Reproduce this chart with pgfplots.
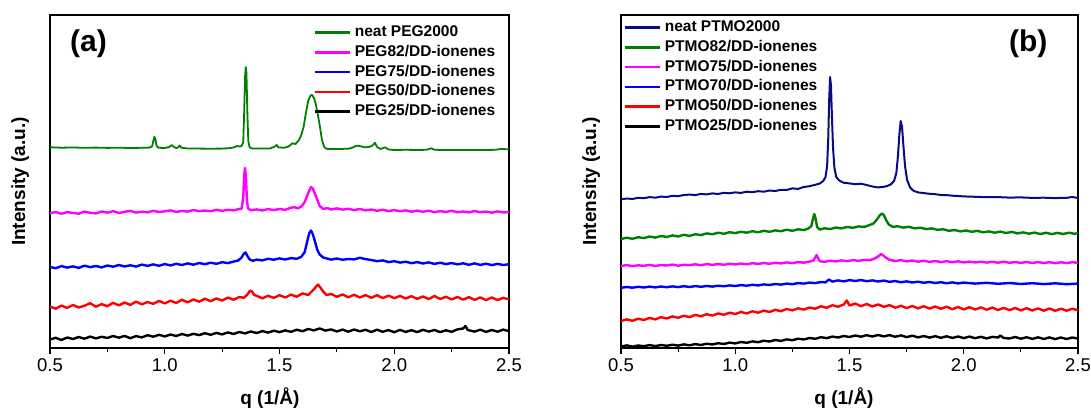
\documentclass[border=0pt]{standalone}
\usepackage{fontspec}
\setmainfont{Liberation Sans}
\usepackage{pgfplots}
\pgfplotsset{compat=1.18}
\definecolor{cgreen}{RGB}{0,128,0}
\definecolor{cmag}{RGB}{255,0,255}
\definecolor{cblue}{RGB}{0,0,255}
\definecolor{cred}{RGB}{255,0,0}
\definecolor{cnavy}{RGB}{10,10,130}
\pgfplotsset{
 xrd/.style={
  scale only axis, height=333pt,
  xmin=0.5, xmax=2.5, ymin=0, ymax=333,
  xtick={0.5,1,1.5,2,2.5}, xticklabels={0.5,1.0,1.5,2.0,2.5},
  minor x tick num=1,
  ytick=\empty,
  xtick pos=left,
  tick align=outside,
  major tick length=6pt, minor tick length=4pt,
  axis line style={line width=1.2pt},
  every tick/.style={line width=1.2pt, black},
  ticklabel style={font=\fontsize{18.5}{22}\selectfont, yshift=-1.5pt},
  /pgf/number format/assume math mode=true,
  label style={font=\bfseries\fontsize{19}{22}\selectfont},
  xlabel={q (1/Å)},
  ylabel={Intensity (a.u.)},
  ylabel style={at={(axis description cs:-0.065,0.5)}, anchor=center},
  legend cell align=left,
  legend image code/.code={\draw[#1,line width=2.6pt] (0pt,0pt) -- (35pt,0pt);},
  legend style={draw=none, fill=none, inner sep=0pt, anchor=north west,
    font=\bfseries\fontsize{15.5}{18}\selectfont,
    nodes={inner sep=0pt, text height=11pt, text depth=3pt},
    row sep=5.8pt, column sep=4pt},
  every axis plot/.append style={line width=2.4pt, line join=round},
 }
}
\begin{document}
\begin{tikzpicture}
\path[use as bounding box] (0,0) rectangle (1091pt,412pt);
% ---------------- panel (a)
\begin{axis}[xrd, width=459pt, at={(50pt,64pt)}, anchor=south west,
  xlabel style={at={(axis description cs:0.479,-0.15)}, anchor=center},
  legend style={at={(axis description cs:0.573,0.969)}}]
\addplot[cgreen, line width=1.8pt] coordinates {(0.5,200.7)(0.55,200.3)(0.6,200.5)(0.65,200.2)(0.7,200.4)(0.75,200.1)(0.8,200.3)(0.85,200)(0.9,200.2)(0.93,200.3)(0.945,201.5)(0.95,207)(0.955,211.3)(0.96,208)(0.965,201.5)(0.975,200.2)(1.0,200)(1.02,201)(1.03,203)(1.04,201)(1.05,200)(1.058,200.6)(1.065,202.5)(1.072,200.3)(1.1,199.5)(1.15,199.4)(1.2,199.3)(1.25,199.4)(1.28,199.8)(1.3,200.5)(1.315,202)(1.325,201.5)(1.335,202)(1.342,206)(1.346,235)(1.35,272)(1.353,281)(1.356,275)(1.36,235)(1.364,207)(1.37,200.5)(1.38,199.6)(1.42,199.5)(1.46,199.6)(1.48,201.5)(1.488,203)(1.496,200.5)(1.52,200.3)(1.54,201.5)(1.556,204.7)(1.57,204)(1.585,208)(1.595,213)(1.605,221)(1.615,235)(1.625,247)(1.635,252.5)(1.642,253)(1.65,250)(1.658,244)(1.665,236)(1.675,223)(1.685,208)(1.695,201)(1.705,199.2)(1.72,199)(1.76,199)(1.8,199.3)(1.82,200.5)(1.836,202.3)(1.85,202)(1.87,200.7)(1.89,201)(1.905,202.5)(1.916,205.3)(1.925,201)(1.94,199)(1.96,200.7)(1.975,198.5)(2.0,198)(2.05,198.2)(2.1,198)(2.14,198.2)(2.16,199.7)(2.175,198.3)(2.2,198)(2.3,198)(2.4,198)(2.44,198.2)(2.465,199)(2.5,198.7)};
\addlegendentry{neat PEG2000}
\addplot[cmag] coordinates {(0.5,134.8)(0.525,136.0)(0.55,134.2)(0.575,135.9)(0.6,135.0)(0.625,134.3)(0.65,136.4)(0.675,135.2)(0.7,134.6)(0.725,136.5)(0.75,135.3)(0.775,136.8)(0.8,135.0)(0.825,136.2)(0.85,137.1)(0.875,135.4)(0.9,136.3)(0.925,135.6)(0.95,137.2)(0.975,136.0)(1.0,136.7)(1.025,137.6)(1.05,136.1)(1.075,137.0)(1.1,136.4)(1.125,138.0)(1.15,136.8)(1.175,137.5)(1.2,136.7)(1.225,138.3)(1.25,137.2)(1.275,138.1)(1.3,137.6)(1.32,138.8)(1.335,139.5)(1.342,150)(1.346,172)(1.35,180)(1.354,170)(1.358,148)(1.363,139.5)(1.375,137.8)(1.4,138.6)(1.425,137.5)(1.45,138.9)(1.475,137.9)(1.5,139.0)(1.525,138.2)(1.55,140.3)(1.565,140.8)(1.58,139.6)(1.595,141.5)(1.61,146)(1.625,155)(1.637,161)(1.645,159.5)(1.655,154)(1.665,148)(1.675,142)(1.69,139.2)(1.71,139.8)(1.725,138.5)(1.75,139.6)(1.775,138.4)(1.8,139.2)(1.825,137.9)(1.85,139.0)(1.875,137.6)(1.9,138.5)(1.925,137.2)(1.95,138.3)(1.975,136.9)(2.0,137.9)(2.025,136.8)(2.05,137.6)(2.075,136.3)(2.1,137.4)(2.125,136.2)(2.15,137.3)(2.175,135.9)(2.2,136.8)(2.225,136.1)(2.25,137.2)(2.275,135.7)(2.3,136.5)(2.325,135.6)(2.35,136.9)(2.375,135.8)(2.4,136.4)(2.425,135.3)(2.45,136.6)(2.475,135.5)(2.5,136.0)};
\addlegendentry{PEG82/DD-ionenes}
\addplot[cblue] coordinates {(0.5,81.0)(0.525,79.8)(0.55,81.9)(0.575,80.4)(0.6,81.6)(0.625,80.1)(0.65,82.3)(0.675,80.9)(0.7,82.0)(0.725,80.6)(0.75,82.5)(0.775,81.3)(0.8,83.0)(0.825,81.5)(0.85,82.7)(0.875,81.4)(0.9,83.4)(0.925,82.1)(0.95,83.6)(0.975,82.2)(1.0,83.9)(1.025,82.6)(1.05,84.2)(1.075,83.0)(1.1,84.6)(1.125,83.3)(1.15,85.0)(1.175,83.8)(1.2,85.3)(1.225,84.2)(1.25,85.8)(1.275,84.9)(1.3,86.4)(1.32,87.5)(1.335,90.5)(1.345,94.5)(1.352,95.5)(1.36,92)(1.37,88.5)(1.385,87.2)(1.4,88.4)(1.425,87.6)(1.45,89.2)(1.475,88.3)(1.5,89.6)(1.525,88.5)(1.55,89.9)(1.575,89.2)(1.595,91.2)(1.61,96)(1.62,106)(1.63,115)(1.637,117.5)(1.645,114)(1.655,106)(1.665,98)(1.675,93.5)(1.69,90.5)(1.71,89.3)(1.725,88.4)(1.75,89.5)(1.775,88.2)(1.8,89.0)(1.825,88.6)(1.85,90.2)(1.875,88.9)(1.9,88.0)(1.925,86.8)(1.95,87.6)(1.975,85.9)(2.0,86.8)(2.025,85.4)(2.05,86.3)(2.075,84.8)(2.1,85.9)(2.125,84.5)(2.15,85.6)(2.175,84.1)(2.2,85.3)(2.225,83.9)(2.25,85.0)(2.275,83.6)(2.3,84.7)(2.325,83.2)(2.35,84.6)(2.375,83.1)(2.4,84.3)(2.425,82.9)(2.45,84.1)(2.475,83.0)(2.5,83.8)};
\addlegendentry{PEG75/DD-ionenes}
\addplot[cred] coordinates {(0.5,41.5)(0.525,39.3)(0.55,42.4)(0.575,40.1)(0.6,43.0)(0.625,40.6)(0.65,42.2)(0.675,44.8)(0.7,41.3)(0.725,43.9)(0.75,41.8)(0.775,45.2)(0.8,42.6)(0.825,45.5)(0.85,43.1)(0.875,46.4)(0.9,43.7)(0.925,45.9)(0.95,44.2)(0.975,47.1)(1.0,44.6)(1.025,47.3)(1.05,45.0)(1.075,48.2)(1.1,45.7)(1.125,48.5)(1.15,46.3)(1.175,49.3)(1.2,46.8)(1.225,49.6)(1.25,47.5)(1.275,50.4)(1.3,48.3)(1.325,51.0)(1.345,50.2)(1.36,53.5)(1.372,57.5)(1.38,56.5)(1.39,53.0)(1.405,51.8)(1.425,49.6)(1.45,52.3)(1.475,50.1)(1.5,52.8)(1.525,50.5)(1.55,53.4)(1.575,51.2)(1.6,54.6)(1.625,53.0)(1.645,57.5)(1.66,61.5)(1.668,63.5)(1.678,60.5)(1.69,56.5)(1.705,53.0)(1.725,54.0)(1.75,51.2)(1.775,53.6)(1.8,50.7)(1.825,53.2)(1.85,50.5)(1.875,52.9)(1.9,50.2)(1.925,52.8)(1.95,49.9)(1.975,52.4)(2.0,49.8)(2.025,52.1)(2.05,49.5)(2.075,51.8)(2.1,49.1)(2.125,51.6)(2.15,48.9)(2.175,52.0)(2.2,49.0)(2.225,51.2)(2.25,48.6)(2.275,51.0)(2.3,48.4)(2.325,50.9)(2.35,48.1)(2.375,50.6)(2.4,47.9)(2.425,50.5)(2.45,48.0)(2.475,50.2)(2.5,48.5)};
\addlegendentry{PEG50/DD-ionenes}
\addplot[black] coordinates {(0.5,8.5)(0.525,10.2)(0.55,8.0)(0.575,10.5)(0.6,9.0)(0.625,11.0)(0.65,9.3)(0.675,11.4)(0.7,9.6)(0.725,11.2)(0.75,10.0)(0.775,12.0)(0.8,10.3)(0.825,12.1)(0.85,9.8)(0.875,11.9)(0.9,10.6)(0.925,12.8)(0.95,11.3)(0.975,13.2)(1.0,11.6)(1.025,13.5)(1.05,12.0)(1.075,14.0)(1.1,12.4)(1.125,14.2)(1.15,12.9)(1.175,14.8)(1.2,13.2)(1.225,15.1)(1.25,13.6)(1.275,15.6)(1.3,14.0)(1.325,16.0)(1.35,14.6)(1.375,16.5)(1.4,15.0)(1.425,16.9)(1.45,15.4)(1.475,17.3)(1.5,15.9)(1.525,17.6)(1.55,16.2)(1.575,18.3)(1.6,16.8)(1.625,19.0)(1.65,17.6)(1.675,19.6)(1.7,17.4)(1.725,18.6)(1.75,16.5)(1.775,18.4)(1.8,16.3)(1.825,18.5)(1.85,16.7)(1.875,18.2)(1.9,16.0)(1.925,18.3)(1.95,16.2)(1.975,17.9)(2.0,15.8)(2.025,18.1)(2.05,16.1)(2.075,17.8)(2.1,15.9)(2.125,18.2)(2.15,16.4)(2.175,18.0)(2.2,15.9)(2.225,17.7)(2.25,16.2)(2.275,18.6)(2.3,19.5)(2.31,22.0)(2.32,18.0)(2.35,16.4)(2.375,18.3)(2.4,16.1)(2.425,18.0)(2.45,16.3)(2.475,18.4)(2.5,16.8)};
\addlegendentry{PEG25/DD-ionenes}
\node[font=\bfseries\fontsize{30}{34}\selectfont] at (rel axis cs:0.084,0.914) {(a)};
\end{axis}
% ---------------- panel (b)
\begin{axis}[xrd, width=457pt, at={(621pt,64pt)}, anchor=south west,
  xlabel style={at={(axis description cs:0.488,-0.15)}, anchor=center},
  legend style={at={(axis description cs:0.0044,0.984)}}]
\addplot[cnavy, line width=2pt] coordinates {(0.5,148.7)(0.525,149.5)(0.55,149.0)(0.575,150.2)(0.6,149.8)(0.625,150.9)(0.65,150.3)(0.675,151.4)(0.7,151.0)(0.725,152.2)(0.75,151.8)(0.775,153.0)(0.8,153.4)(0.825,152.9)(0.85,154.1)(0.875,153.6)(0.9,154.6)(0.925,154.0)(0.95,155.2)(0.975,154.7)(1.0,155.6)(1.025,155.1)(1.05,156.3)(1.075,155.8)(1.1,156.8)(1.125,156.3)(1.15,157.5)(1.175,157.0)(1.2,158.2)(1.225,158.0)(1.25,159.6)(1.275,159.1)(1.3,161.0)(1.325,161.8)(1.35,163.2)(1.37,164.5)(1.385,167.0)(1.395,171.0)(1.402,182)(1.407,210)(1.411,248)(1.415,271)(1.419,262)(1.423,232)(1.428,200)(1.434,180)(1.442,171)(1.455,167.5)(1.475,165.2)(1.5,164.6)(1.525,163.8)(1.55,164.3)(1.575,163.0)(1.6,161.5)(1.625,160.6)(1.65,161.2)(1.665,162.0)(1.68,163.5)(1.695,167)(1.705,175)(1.712,192)(1.718,213)(1.724,227)(1.73,221)(1.736,202)(1.743,182)(1.752,168)(1.765,160.5)(1.78,157.2)(1.8,155.6)(1.825,154.9)(1.85,154.2)(1.875,153.8)(1.9,153.0)(1.925,152.9)(1.95,152.3)(1.975,152.0)(2.0,151.6)(2.05,151.2)(2.1,150.8)(2.15,150.9)(2.2,150.4)(2.25,150.6)(2.3,150.1)(2.35,150.3)(2.4,149.9)(2.45,150.2)(2.475,151.0)(2.5,150.0)};
\addlegendentry{neat PTMO2000}
\addplot[cgreen] coordinates {(0.5,109.0)(0.525,110.3)(0.55,109.2)(0.575,110.8)(0.6,109.9)(0.625,111.5)(0.65,110.4)(0.675,112.0)(0.7,111.0)(0.725,112.6)(0.75,111.5)(0.775,113.2)(0.8,112.1)(0.825,113.8)(0.85,112.9)(0.875,114.6)(0.9,113.7)(0.925,115.3)(0.95,114.2)(0.975,115.8)(1.0,114.9)(1.025,116.2)(1.05,115.3)(1.075,116.8)(1.1,115.7)(1.125,117.2)(1.15,116.2)(1.175,117.6)(1.2,116.8)(1.225,118.3)(1.25,117.2)(1.275,118.7)(1.3,117.9)(1.32,119.5)(1.333,122)(1.34,129)(1.346,134)(1.352,129)(1.358,121)(1.37,118.4)(1.39,119.7)(1.415,118.9)(1.44,120.5)(1.465,119.6)(1.49,121.0)(1.515,120.2)(1.54,121.6)(1.565,121.0)(1.59,123.2)(1.605,124.5)(1.62,128.5)(1.632,132.5)(1.642,134.5)(1.65,133)(1.66,128)(1.672,123.5)(1.69,121.0)(1.71,121.8)(1.735,120.4)(1.76,121.2)(1.785,119.6)(1.81,120.3)(1.835,118.9)(1.86,119.6)(1.885,118.2)(1.91,118.7)(1.935,117.2)(1.96,118.0)(1.985,116.6)(2.01,117.5)(2.035,116.2)(2.06,117.1)(2.085,115.7)(2.11,116.6)(2.135,115.3)(2.16,116.4)(2.185,115.0)(2.21,116.1)(2.235,114.6)(2.26,115.6)(2.285,114.3)(2.31,115.4)(2.335,114.0)(2.36,115.2)(2.385,113.9)(2.41,115.1)(2.435,114.0)(2.46,115.3)(2.485,114.2)(2.5,114.9)};
\addlegendentry{PTMO82/DD-ionenes}
\addplot[cmag] coordinates {(0.5,82.0)(0.525,82.9)(0.55,81.8)(0.575,82.7)(0.6,82.2)(0.625,83.1)(0.65,82.0)(0.675,82.9)(0.7,82.5)(0.725,83.4)(0.75,82.3)(0.775,83.3)(0.8,82.9)(0.825,83.7)(0.85,82.8)(0.875,83.9)(0.9,83.1)(0.925,84.0)(0.95,83.2)(0.975,84.3)(1.0,83.5)(1.025,84.5)(1.05,83.7)(1.075,84.8)(1.1,84.0)(1.125,85.0)(1.15,84.2)(1.175,85.3)(1.2,84.6)(1.225,85.6)(1.25,84.9)(1.275,85.9)(1.3,85.3)(1.325,86.4)(1.342,87.5)(1.35,90.5)(1.356,93)(1.362,90)(1.37,86.8)(1.39,86.2)(1.415,87.3)(1.44,86.5)(1.465,87.6)(1.49,86.8)(1.515,87.9)(1.54,87.1)(1.565,88.3)(1.59,87.9)(1.61,89.5)(1.625,91.5)(1.638,94)(1.648,92.5)(1.66,90.2)(1.675,88.2)(1.7,87.0)(1.725,87.9)(1.75,86.6)(1.775,87.5)(1.8,86.3)(1.825,87.2)(1.85,86.1)(1.875,87.0)(1.9,85.9)(1.925,86.8)(1.95,85.7)(1.975,86.7)(2.0,85.6)(2.025,86.4)(2.05,85.5)(2.075,86.3)(2.1,85.4)(2.125,86.2)(2.15,85.3)(2.175,86.2)(2.2,85.2)(2.225,86.0)(2.25,85.1)(2.275,86.0)(2.3,85.0)(2.325,85.9)(2.35,85.0)(2.375,85.8)(2.4,84.8)(2.425,85.7)(2.45,84.9)(2.475,85.8)(2.5,85.1)};
\addlegendentry{PTMO75/DD-ionenes}
\addplot[cblue] coordinates {(0.5,60.2)(0.525,61.0)(0.55,60.3)(0.575,61.2)(0.6,60.5)(0.625,61.4)(0.65,60.6)(0.675,61.5)(0.7,60.8)(0.725,61.6)(0.75,60.9)(0.775,61.8)(0.8,61.0)(0.825,61.9)(0.85,61.2)(0.875,62.0)(0.9,61.4)(0.925,62.3)(0.95,61.7)(0.975,62.6)(1.0,62.0)(1.025,62.9)(1.05,62.3)(1.075,63.2)(1.1,62.6)(1.125,63.6)(1.15,63.0)(1.175,64.0)(1.2,63.4)(1.225,64.4)(1.25,63.8)(1.275,64.9)(1.3,64.4)(1.325,65.4)(1.35,64.9)(1.375,66.0)(1.395,65.6)(1.41,68.5)(1.425,66.4)(1.45,67.6)(1.475,66.6)(1.5,67.9)(1.525,67.0)(1.55,68.0)(1.575,66.8)(1.6,67.6)(1.625,66.5)(1.65,67.4)(1.675,66.2)(1.7,66.9)(1.725,65.8)(1.75,66.6)(1.775,65.5)(1.8,66.3)(1.825,65.2)(1.85,66.0)(1.875,65.0)(1.9,65.8)(1.925,64.7)(1.95,65.6)(1.975,64.6)(2.0,65.4)(2.05,64.4)(2.1,65.2)(2.15,64.2)(2.2,65.0)(2.25,64.0)(2.3,64.8)(2.35,63.9)(2.4,64.7)(2.45,63.8)(2.5,64.4)};
\addlegendentry{PTMO70/DD-ionenes}
\addplot[cred] coordinates {(0.5,27.0)(0.525,28.6)(0.55,27.2)(0.575,29.3)(0.6,28.0)(0.625,30.1)(0.65,28.6)(0.675,30.8)(0.7,29.5)(0.725,31.6)(0.75,30.2)(0.775,32.3)(0.8,30.9)(0.825,33.1)(0.85,31.7)(0.875,33.8)(0.9,32.4)(0.925,34.6)(0.95,33.2)(0.975,35.3)(1.0,34.0)(1.025,36.0)(1.05,34.6)(1.075,36.7)(1.1,35.3)(1.125,37.4)(1.15,36.0)(1.175,38.2)(1.2,36.8)(1.225,39.0)(1.25,37.6)(1.275,39.7)(1.3,38.4)(1.325,40.5)(1.35,39.3)(1.375,41.7)(1.4,40.2)(1.425,42.8)(1.45,41.3)(1.475,43.5)(1.488,47.5)(1.5,42.5)(1.525,44.4)(1.55,41.8)(1.575,44.0)(1.6,41.5)(1.625,43.6)(1.65,41.2)(1.675,42.9)(1.7,40.3)(1.725,42.2)(1.75,39.9)(1.775,42.0)(1.8,39.6)(1.825,41.8)(1.85,39.4)(1.875,41.5)(1.9,39.2)(1.925,41.3)(1.95,38.8)(1.975,41.0)(2.0,38.6)(2.025,40.8)(2.05,38.5)(2.075,40.6)(2.1,38.3)(2.125,40.4)(2.15,38.0)(2.175,40.1)(2.2,37.9)(2.225,40.0)(2.25,37.6)(2.275,39.8)(2.3,37.5)(2.325,39.6)(2.35,37.3)(2.375,39.5)(2.4,37.2)(2.425,39.3)(2.45,37.3)(2.475,39.2)(2.5,37.8)};
\addlegendentry{PTMO50/DD-ionenes}
\addplot[black] coordinates {(0.5,1.5)(0.525,2.6)(0.55,1.4)(0.575,2.5)(0.6,1.8)(0.625,2.9)(0.65,1.9)(0.675,3.0)(0.7,2.2)(0.725,3.3)(0.75,2.4)(0.775,3.6)(0.8,2.7)(0.825,3.9)(0.85,3.0)(0.875,4.3)(0.9,3.5)(0.925,4.8)(0.95,4.0)(0.975,5.4)(1.0,4.6)(1.025,6.0)(1.05,5.2)(1.075,6.6)(1.1,5.8)(1.125,7.3)(1.15,6.5)(1.175,8.0)(1.2,7.1)(1.225,8.6)(1.25,7.8)(1.275,9.3)(1.3,8.5)(1.325,10.0)(1.35,9.2)(1.375,10.8)(1.4,9.9)(1.425,11.4)(1.45,10.5)(1.475,12.0)(1.5,11.0)(1.525,12.5)(1.55,11.3)(1.575,12.8)(1.6,11.5)(1.625,13.0)(1.65,11.6)(1.675,12.9)(1.7,11.2)(1.725,12.6)(1.75,10.9)(1.775,12.3)(1.8,10.6)(1.825,12.0)(1.85,10.4)(1.875,11.8)(1.9,10.2)(1.925,11.7)(1.95,10.1)(1.975,11.5)(2.0,9.9)(2.025,11.4)(2.05,9.8)(2.075,11.2)(2.1,9.6)(2.125,11.1)(2.15,10.5)(2.16,12.5)(2.175,10.0)(2.2,9.5)(2.225,11.0)(2.25,9.3)(2.275,10.8)(2.3,9.1)(2.325,10.7)(2.35,9.0)(2.375,10.6)(2.4,8.9)(2.425,10.5)(2.45,9.0)(2.475,10.5)(2.5,9.4)};
\addlegendentry{PTMO25/DD-ionenes}
\node[font=\bfseries\fontsize{30}{34}\selectfont] at (rel axis cs:0.891,0.913) {(b)};
\end{axis}
\end{tikzpicture}
\end{document}
